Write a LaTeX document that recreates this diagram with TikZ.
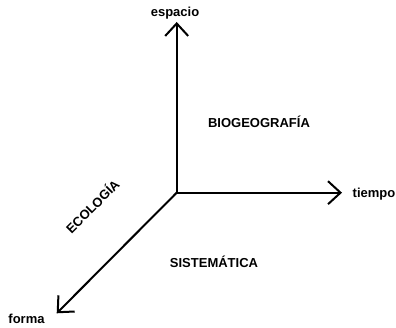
\documentclass[tikz,border=0pt]{standalone}
\usepackage{fontspec}
\setmainfont{Liberation Sans}
\usetikzlibrary{arrows.meta}
\begin{document}
\begin{tikzpicture}[x=1pt,y=-1pt,
  axis/.style={line width=2pt,-{Straight Barb[length=12.5pt,width=23pt,line width=2pt]}},
  lbl/.style={font=\fontsize{13}{15}\selectfont\bfseries, inner sep=0pt},
  field/.style={font=\fontsize{13}{15}\selectfont\bfseries, inner sep=0pt}]
\useasboundingbox (0,0) rectangle (396,328);
\coordinate (O) at (176.7,192.7);
\coordinate (espEnd) at (176.7,22);
\coordinate (tieEnd) at (342,192.7);
\coordinate (forEnd) at (56.7,313.3);
\draw[axis] (O) -- (espEnd);
\draw[axis] (O) -- (tieEnd);
\draw[axis] (O) -- (forEnd);
\node[lbl] (espacio) at (175,13) {espacio};
\node[lbl] (tiempo) at (374,194) {tiempo};
\node[lbl] (forma) at (26.5,319) {forma};
\node[field] (bio) at (259,122) {BIOGEOGRAFÍA};
\node[field] (sis) at (214,262) {SISTEMÁTICA};
\node[field, rotate=45] (eco) at (92,206) {ECOLOGÍA};
\end{tikzpicture}
\end{document}
